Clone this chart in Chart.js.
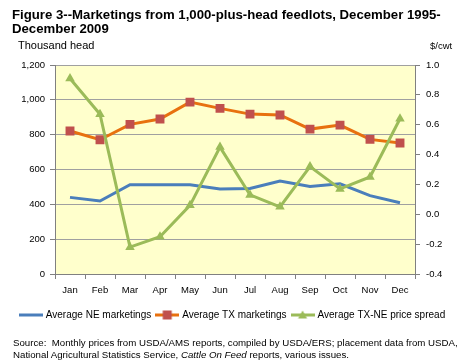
<!DOCTYPE html>
<html>
<head>
<meta charset="utf-8">
<script src="https://cdn.jsdelivr.net/npm/chart.js@4/dist/chart.umd.min.js"></script>
<style>
  html, body { margin: 0; padding: 0; background: #fff; }
  #wrap { position: relative; width: 466px; height: 364px; overflow: hidden; font-family: "Liberation Sans", Arial, sans-serif; }
  #chart { position: absolute; left: 0; top: 0; }
  .txt { position: absolute; color: #000; white-space: nowrap; }
  #title { left: 12px; top: 8px; font-weight: bold; font-size: 13.2px; line-height: 14px; }
  #unitL { left: 18px; top: 39px; font-size: 11px; }
  #unitR { left: 430px; top: 40px; font-size: 9.5px; }
  #source { left: 13px; top: 337px; font-size: 9.7px; line-height: 12px; }
</style>
</head>
<body>
<div id="wrap">
  <canvas id="chart" width="466" height="364"></canvas>
  <div class="txt" id="title">Figure 3--Marketings from 1,000-plus-head feedlots, December 1995-<br>December 2009</div>
  <div class="txt" id="unitL">Thousand head</div>
  <div class="txt" id="unitR">$/cwt</div>
  <div class="txt" id="source">Source:&nbsp; Monthly prices from USDA/AMS reports, compiled by USDA/ERS; placement data from USDA,<br>National Agricultural Statistics Service, <i>Cattle On Feed</i> reports, various issues.</div>
</div>
<script>
  // data
  const months = ["Jan", "Feb", "Mar", "Apr", "May", "Jun", "Jul", "Aug", "Sep", "Oct", "Nov", "Dec"];
  const neMarketings = [440, 419, 513, 513, 513, 488, 491, 534, 503, 518, 450, 409];
  const txMarketings = [821, 771, 859, 890, 987, 951, 918, 913, 832, 855, 773, 752];
  const priceSpread = [0.91, 0.67, -0.22, -0.15, 0.06, 0.45, 0.13, 0.05, 0.32, 0.17, 0.25, 0.64];

  const blue = "#4A7EBB";
  const orange = "#E8710F";
  const red = "#C0504D";
  const green = "#9BBB59";

  // small line + marker swatch for the legend, like the spreadsheet legend
  function swatch(lineColor, marker, markerColor) {
    const c = document.createElement('canvas');
    c.width = 24; c.height = 10;
    const ctx = c.getContext('2d');
    ctx.strokeStyle = lineColor;
    ctx.lineWidth = 3;
    ctx.beginPath();
    ctx.moveTo(0, 5); ctx.lineTo(24, 5);
    ctx.stroke();
    ctx.fillStyle = markerColor;
    if (marker === 'rect') {
      ctx.fillRect(7.5, 0.5, 9, 9);
    } else if (marker === 'triangle') {
      ctx.beginPath();
      ctx.moveTo(12, 0.5); ctx.lineTo(16.5, 8.5); ctx.lineTo(7.5, 8.5);
      ctx.closePath();
      ctx.fill();
    }
    return c;
  }

  const plotBg = {
    id: 'plotBg',
    beforeDraw(chart) {
      const a = chart.chartArea;
      const ctx = chart.ctx;
      ctx.save();
      ctx.fillStyle = '#FFFFCC';
      ctx.fillRect(a.left, a.top, a.right - a.left, a.bottom - a.top);
      ctx.restore();
    }
  };

  const tickFont = { family: "'Liberation Sans', Arial, sans-serif", size: 9.5 };

  new Chart(document.getElementById('chart'), {
    type: 'line',
    data: {
      labels: months,
      datasets: [
        {
          label: 'Average NE marketings',
          data: neMarketings,
          yAxisID: 'y',
          borderColor: blue,
          borderWidth: 3,
          pointRadius: 0,
          order: 3,
          legendImg: swatch(blue, null, blue)
        },
        {
          label: 'Average TX marketings',
          data: txMarketings,
          yAxisID: 'y',
          borderColor: orange,
          borderWidth: 3,
          pointStyle: 'rect',
          pointRadius: 6.3,
          pointBackgroundColor: red,
          pointBorderColor: red,
          pointBorderWidth: 0,
          order: 2,
          legendImg: swatch(orange, 'rect', red)
        },
        {
          label: 'Average TX-NE price spread',
          data: priceSpread,
          yAxisID: 'y2',
          borderColor: green,
          borderWidth: 3,
          pointStyle: 'triangle',
          pointRadius: 5.5,
          pointBackgroundColor: green,
          pointBorderColor: green,
          pointBorderWidth: 0,
          order: 1,
          legendImg: swatch(green, 'triangle', green)
        }
      ]
    },
    options: {
      responsive: false,
      animation: false,
      events: [],
      layout: { padding: { top: 65, left: 0, right: 0, bottom: 34 } },
      plugins: {
        title: { display: false },
        tooltip: { enabled: false },
        legend: {
          position: 'bottom',
          labels: {
            usePointStyle: true,
            pointStyleWidth: 20,
            padding: 6,
            color: '#000',
            font: { family: "'Liberation Sans', Arial, sans-serif", size: 10 },
            generateLabels(chart) {
              return chart.data.datasets.map((ds, i) => ({
                text: ds.label,
                datasetIndex: i,
                pointStyle: ds.legendImg,
                fillStyle: ds.borderColor,
                strokeStyle: ds.borderColor,
                lineWidth: 0,
                fontColor: '#000',
                hidden: false
              }));
            }
          }
        }
      },
      scales: {
        x: {
          offset: true,
          grid: { offset: true, drawOnChartArea: false, color: '#808080', tickLength: 5 },
          border: { color: '#808080', width: 1 },
          ticks: { color: '#000', font: tickFont, padding: 6, maxRotation: 0, autoSkip: false },
          afterFit(s) { s.height = 30; }
        },
        y: {
          position: 'left',
          min: 0,
          max: 1200,
          grid: { color: '#A0A0A0', tickLength: 5, tickColor: '#808080' },
          border: { color: '#808080', width: 1 },
          ticks: {
            stepSize: 200,
            color: '#000',
            font: tickFont,
            padding: 5,
            callback: v => v.toLocaleString('en-US')
          },
          afterFit(s) { s.width = 55; }
        },
        y2: {
          position: 'right',
          min: -0.4,
          max: 1.0,
          grid: { drawOnChartArea: false, color: '#808080', tickLength: 5 },
          border: { color: '#808080', width: 1 },
          ticks: {
            stepSize: 0.2,
            color: '#000',
            font: tickFont,
            padding: 6,
            callback: v => (Math.abs(v) < 1e-9 ? 0 : v).toFixed(1)
          },
          afterFit(s) { s.width = 51; }
        }
      }
    },
    plugins: [plotBg]
  });
</script>
</body>
</html>
